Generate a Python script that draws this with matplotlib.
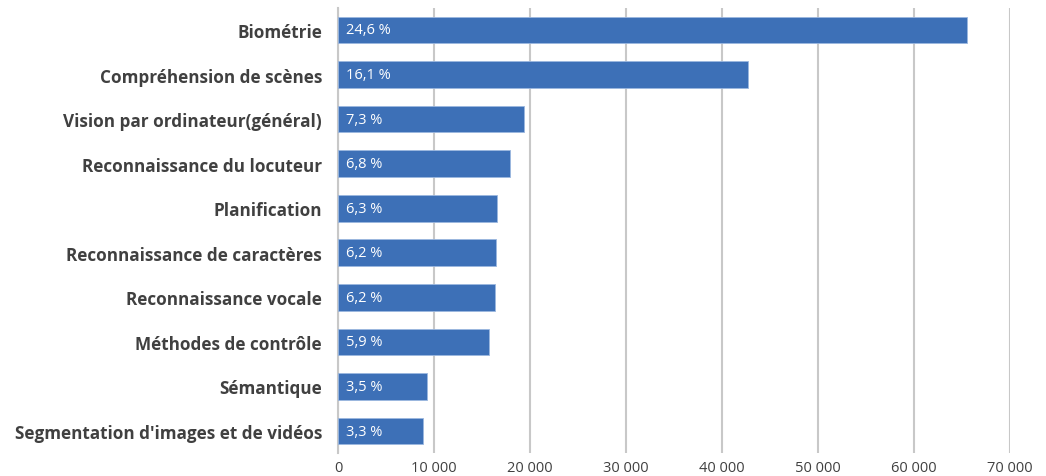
import matplotlib.pyplot as plt
from matplotlib.ticker import FuncFormatter

plt.rcParams['font.family'] = ['Open Sans', 'DejaVu Sans']

categories = ['Biométrie', 'Compréhension de scènes', 'Vision par ordinateur(général)',
              'Reconnaissance du locuteur', 'Planification', 'Reconnaissance de caractères',
              'Reconnaissance vocale', 'Méthodes de contrôle', 'Sémantique',
              "Segmentation d'images et de vidéos"]
values = [65500, 42750, 19400, 17950, 16600, 16440, 16390, 15760, 9300, 8880]
shares = ['24,6 %', '16,1 %', '7,3 %', '6,8 %', '6,3 %', '6,2 %', '6,2 %', '5,9 %', '3,5 %', '3,3 %']
xticks = [0, 10000, 20000, 30000, 40000, 50000, 60000, 70000]

fig = plt.figure(figsize=(10.46, 4.77), dpi=100)
ax = fig.add_axes([0.3231, 0.0476, 0.6425, 0.9342])

pos = list(range(len(categories)))
ax.barh(pos, values, height=0.6, color='#3d70b7', edgecolor='#9bb7df', linewidth=0.6, zorder=3)
# share of total written inside each bar
for y, s in zip(pos, shares):
    ax.text(800, y, s, color='white', fontsize=10.5, va='center', ha='left', zorder=4)

ax.set_xlim(0, 70000)
ax.set_ylim(len(categories) - 0.5, -0.5)
ax.set_yticks(pos)
ax.set_yticklabels(categories, fontsize=12.3, fontweight='bold', color='#404040')
ax.set_xticks(xticks)
ax.xaxis.set_major_formatter(FuncFormatter(lambda x, _: f'{int(x):,}'.replace(',', ' ')))
ax.tick_params(axis='x', labelsize=10.5, labelcolor='#404040', length=0, pad=5)
ax.tick_params(axis='y', length=0, pad=11.5)
ax.grid(axis='x', color='#c8c8c8', linewidth=1.5, zorder=0)
for side in ['top', 'right', 'bottom']:
    ax.spines[side].set_visible(False)
ax.spines['left'].set_color('#c8c8c8')
ax.spines['left'].set_linewidth(1.5)

fig.savefig('out.png', dpi=100)
